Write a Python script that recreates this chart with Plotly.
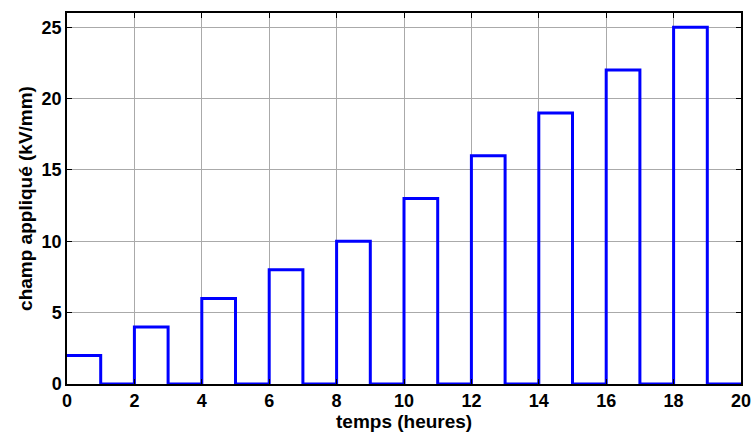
import plotly.graph_objects as go

pulse_start = [0, 2, 4, 6, 8, 10, 12, 14, 16, 18]
pulse_end = [1, 3, 5, 7, 9, 11, 13, 15, 17, 19]
field = [2, 4, 6, 8, 10, 13, 16, 19, 22, 25]
t_end = 20
x_ticks = [0, 2, 4, 6, 8, 10, 12, 14, 16, 18, 20]
y_ticks = [0, 5, 10, 15, 20, 25]

xs, ys = [], []
for s, e, v in zip(pulse_start, pulse_end, field):
    xs += [s, e]
    ys += [v, 0]
xs.append(t_end)
ys.append(0)

fig = go.Figure()
fig.add_trace(go.Scatter(x=xs, y=ys, mode="lines", line_shape="hv",
                         line=dict(color="#0000ff", width=3), showlegend=False))

fam = "Liberation Sans, Arial"
H, T, B = 432, 13, 48
plot_h = H - T - B
fig.update_layout(
    width=754, height=H,
    margin=dict(l=67, r=13, t=T, b=B),
    plot_bgcolor="white", paper_bgcolor="white",
    font=dict(family=fam, size=18, color="black"),
)
axis_common = dict(showline=True, linecolor="black", linewidth=1.5, mirror="ticks",
                   ticks="inside", ticklen=5, tickcolor="black",
                   showgrid=True, gridcolor="#aaaaaa", gridwidth=1,
                   zeroline=False, automargin=False,
                   tickfont=dict(family=fam, size=18, color="black"))
fig.update_xaxes(range=[0, 20], tickvals=x_ticks, ticktext=[f"<b>{v}</b>" for v in x_ticks],
                 **axis_common)
fig.update_yaxes(range=[0, 26], tickvals=y_ticks, ticktext=[f"<b>{v}</b>" for v in y_ticks],
                 title=dict(text="<b>champ appliqué (kV/mm)</b>", standoff=4,
                            font=dict(family=fam, size=19, color="black")),
                 **axis_common)
fig.add_annotation(text="<b>temps (heures)</b>", xref="paper", yref="paper",
                   x=0.5, y=-(H - T - plot_h - 0) / plot_h - 2 / plot_h,
                   xanchor="center", yanchor="bottom", showarrow=False,
                   font=dict(family=fam, size=19, color="black"))
fig.write_html("out.html")
